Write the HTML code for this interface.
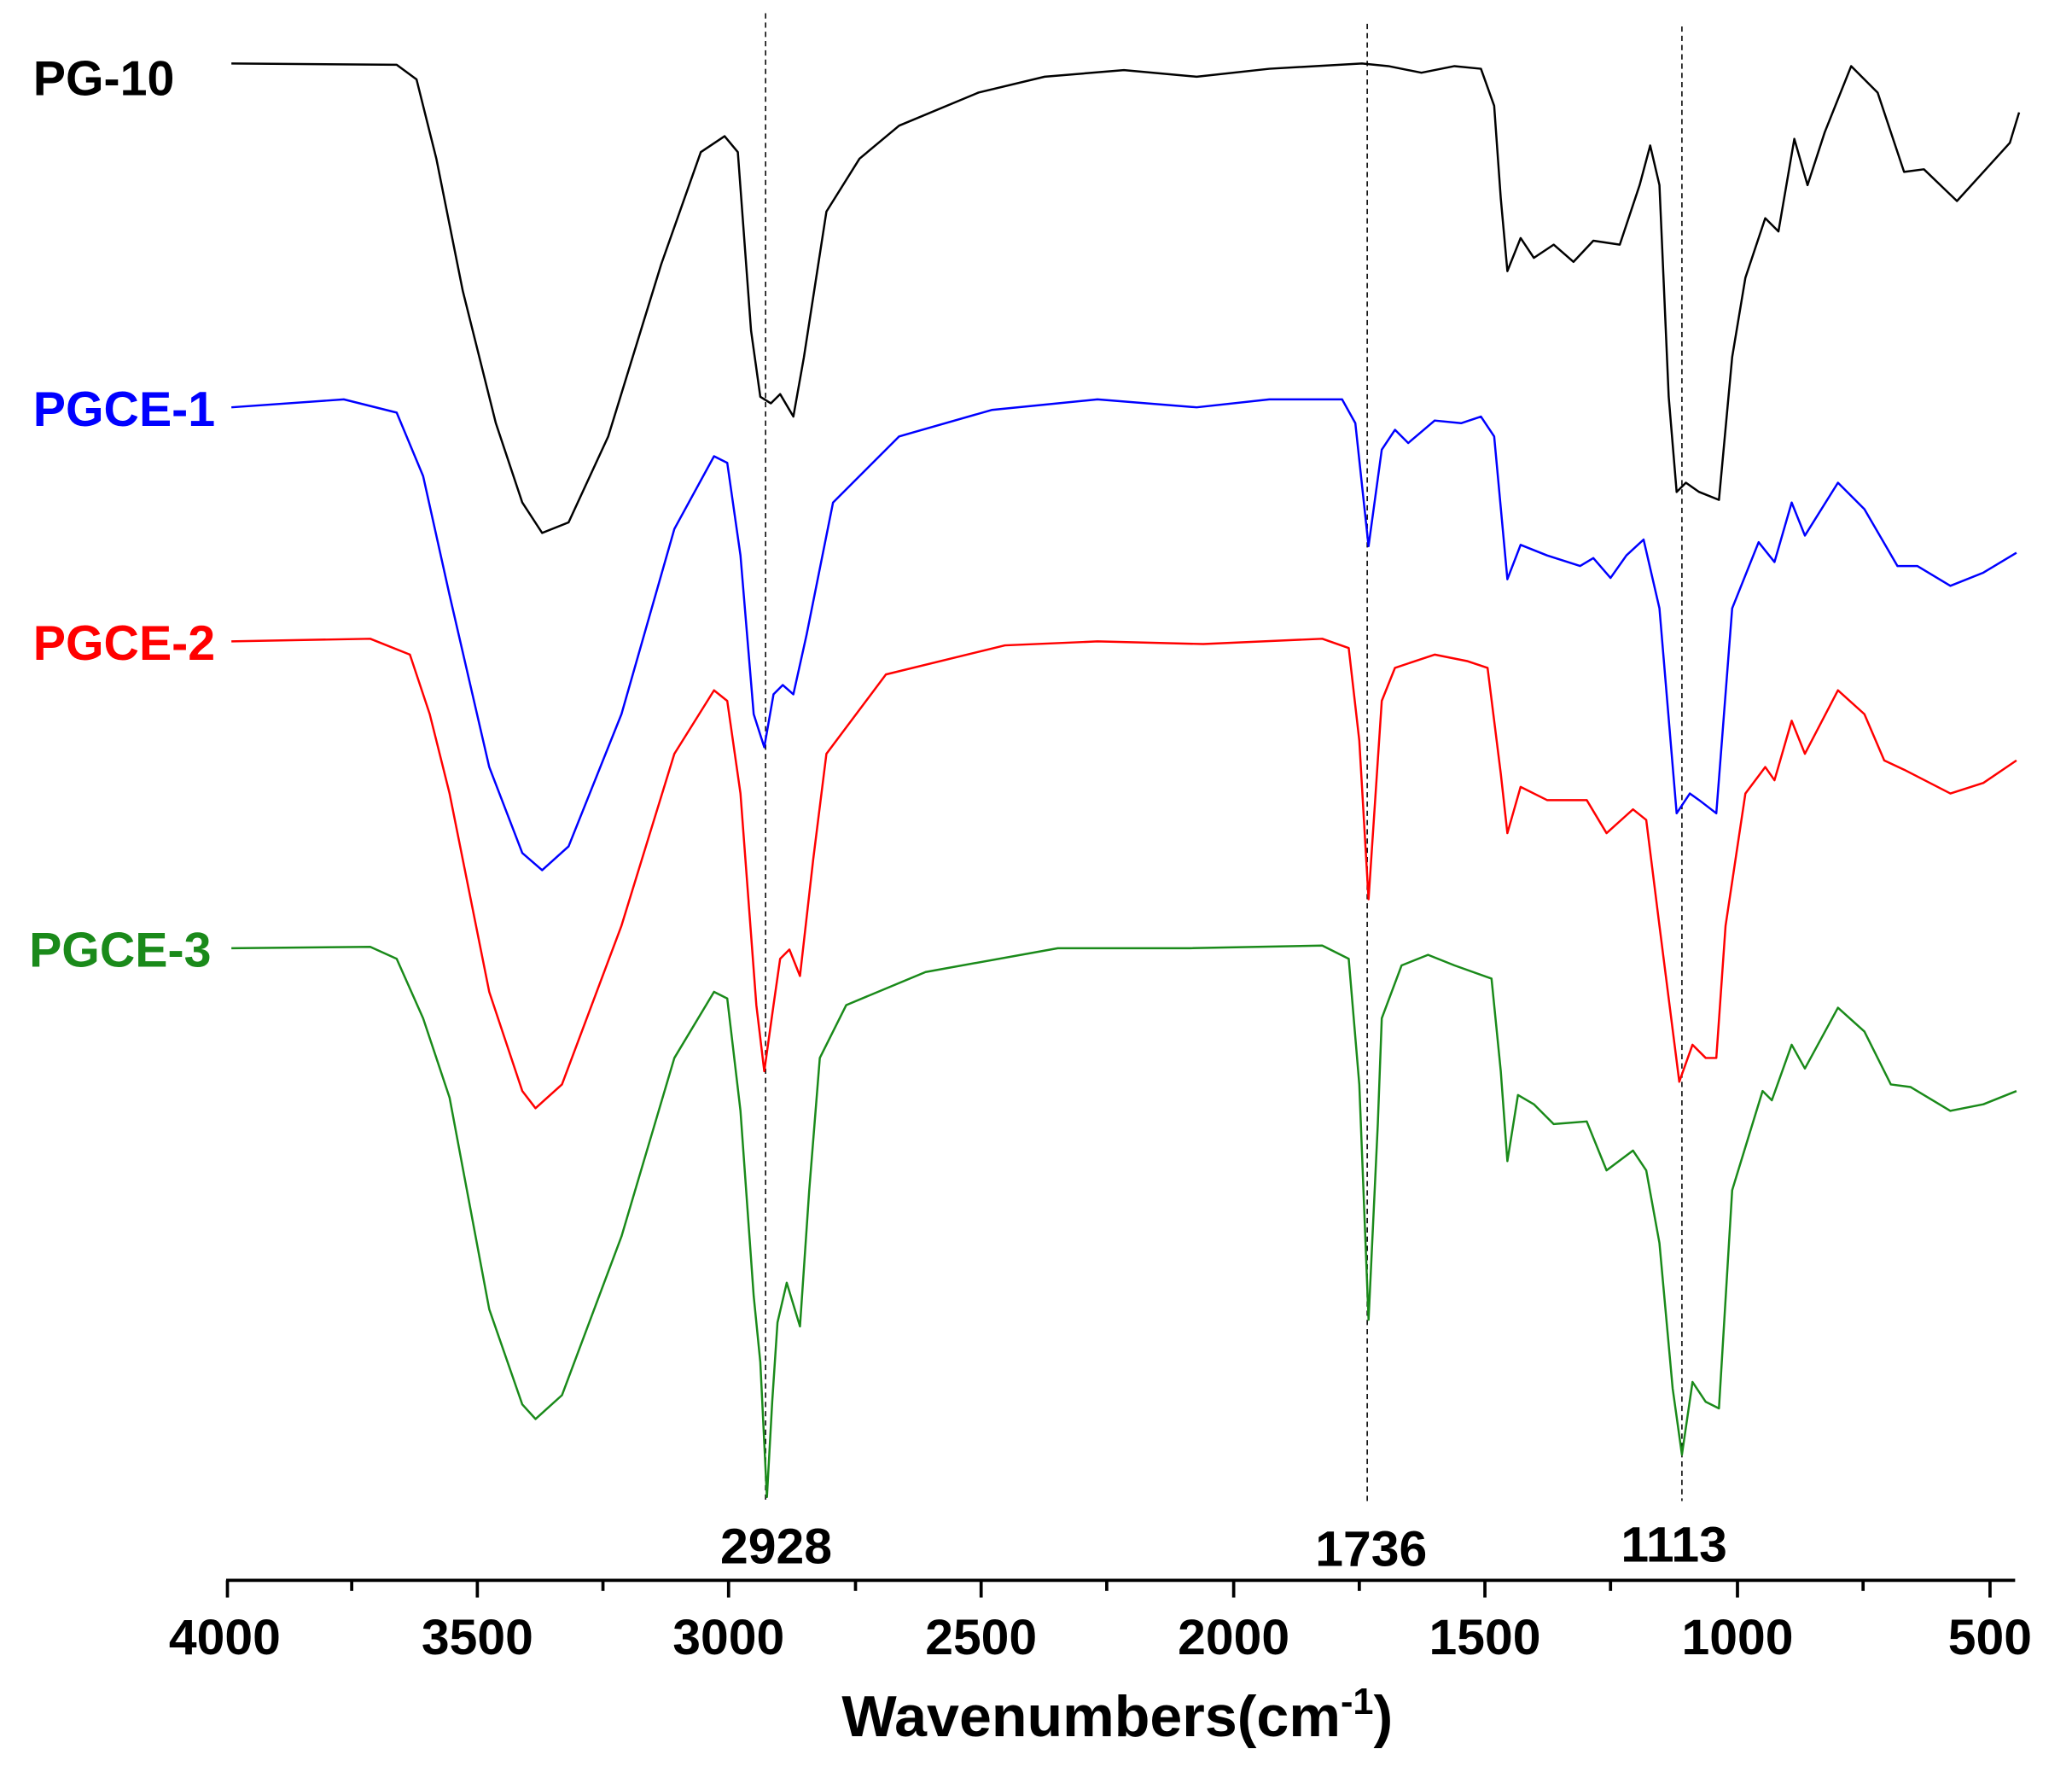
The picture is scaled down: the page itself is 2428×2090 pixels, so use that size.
<!DOCTYPE html>
<html><head><meta charset="utf-8"><style>html,body{margin:0;padding:0;background:#fff}svg{display:block}</style></head>
<body>
<svg width="2428" height="2090" viewBox="0 0 1567 1349" preserveAspectRatio="none" xmlns="http://www.w3.org/2000/svg" font-family="Liberation Sans, Arial, sans-serif">
<rect width="1567" height="1349" fill="#fff"/>
<g stroke="#000" stroke-width="1" stroke-dasharray="4,3">
<line x1="579" y1="10" x2="579" y2="1135"/>
<line x1="1034" y1="18" x2="1034" y2="1135"/>
<line x1="1272" y1="20" x2="1272" y2="1135"/>
</g>
<g fill="none" stroke-width="1.6" stroke-linejoin="round">
<polyline stroke="#000" points="175,48 300,49 315,60 330,120 350,220 375,320 395,380 410,403 430,395 460,330 500,200 530,115 548,103 558,115 568,250 575,300 583,305 590,298 600,315 608,270 625,160 650,120 680,95 740,70 790,58 850,53 905,58 960,52 1030,48 1050,50 1075,55 1100,50 1120,52 1130,80 1135,150 1140,205 1150,180 1160,195 1175,185 1190,198 1205,182 1225,185 1240,140 1248,110 1255,140 1262,300 1268,372 1275,365 1285,372 1300,378 1310,270 1320,210 1335,165 1345,175 1357,105 1367,140 1380,100 1400,50 1420,70 1440,130 1455,128 1480,152 1500,130 1520,108 1527,85"/>
<polyline stroke="#0000ff" points="175,308 260,302 300,312 320,360 340,450 370,580 395,645 410,658 430,640 470,540 510,400 540,345 550,350 560,420 570,540 578,565 585,525 592,518 600,525 610,480 630,380 680,330 750,310 830,302 905,308 960,302 1015,302 1025,320 1035,413 1045,340 1055,325 1065,335 1085,318 1105,320 1120,315 1130,330 1140,438 1150,412 1170,420 1195,428 1205,422 1218,437 1230,420 1243,408 1255,460 1268,615 1278,600 1285,605 1298,615 1310,460 1330,410 1342,425 1355,380 1365,405 1390,365 1410,385 1435,428 1450,428 1475,443 1500,433 1525,418"/>
<polyline stroke="#ff0000" points="175,485 280,483 310,495 325,540 340,600 370,750 395,825 405,838 425,820 470,700 510,570 540,522 550,530 560,600 572,760 578,810 585,760 590,725 597,718 605,738 615,650 625,570 670,510 760,488 830,485 910,487 1000,483 1020,490 1028,560 1035,680 1045,530 1055,505 1085,495 1110,500 1125,505 1135,585 1140,630 1150,595 1170,605 1200,605 1215,630 1235,612 1245,620 1255,700 1270,818 1280,790 1290,800 1298,800 1305,700 1320,600 1335,580 1342,590 1355,545 1365,570 1390,522 1410,540 1425,575 1440,582 1475,600 1500,592 1525,575"/>
<polyline stroke="#1a8a1a" points="175,717 280,716 300,725 320,770 340,830 370,990 395,1062 405,1073 425,1055 470,935 510,800 540,750 550,755 560,840 570,980 575,1030 580,1132 584,1060 588,1000 595,970 605,1003 612,900 620,800 640,760 700,735 800,717 900,717 1000,715 1020,725 1028,820 1035,998 1042,850 1045,770 1060,730 1080,722 1100,730 1128,740 1135,810 1140,878 1148,828 1160,835 1175,850 1200,848 1215,885 1235,870 1245,885 1255,940 1265,1050 1272,1100 1280,1045 1290,1060 1300,1065 1310,900 1333,825 1340,832 1355,790 1365,808 1390,762 1410,780 1430,820 1445,822 1475,840 1500,835 1525,825"/>
</g>
<g stroke="#000" stroke-width="2.4">
<line x1="171" y1="1195" x2="1524" y2="1195"/>
<line x1="172" y1="1195" x2="172" y2="1208"/><line x1="266" y1="1195" x2="266" y2="1203"/>
<line x1="361" y1="1195" x2="361" y2="1208"/><line x1="456" y1="1195" x2="456" y2="1203"/>
<line x1="551" y1="1195" x2="551" y2="1208"/><line x1="647" y1="1195" x2="647" y2="1203"/>
<line x1="742" y1="1195" x2="742" y2="1208"/><line x1="837" y1="1195" x2="837" y2="1203"/>
<line x1="933" y1="1195" x2="933" y2="1208"/><line x1="1028" y1="1195" x2="1028" y2="1203"/>
<line x1="1123" y1="1195" x2="1123" y2="1208"/><line x1="1218" y1="1195" x2="1218" y2="1203"/>
<line x1="1314" y1="1195" x2="1314" y2="1208"/><line x1="1409" y1="1195" x2="1409" y2="1203"/>
<line x1="1505" y1="1195" x2="1505" y2="1208"/>
</g>
<g font-size="38" font-weight="bold" text-anchor="middle" fill="#000">
<text x="170" y="1251">4000</text><text x="361" y="1251">3500</text><text x="551" y="1251">3000</text>
<text x="742" y="1251">2500</text><text x="933" y="1251">2000</text><text x="1123" y="1251">1500</text>
<text x="1314" y="1251">1000</text><text x="1505" y="1251">500</text>
<text x="587" y="1182">2928</text><text x="1037" y="1184">1736</text><text x="1266" y="1181">1113</text>
</g>
<text x="845" y="1313" font-size="44" font-weight="bold" text-anchor="middle">Wavenumbers(cm<tspan font-size="28" dy="-17">-1</tspan><tspan dy="17">)</tspan></text>
<g font-size="37" font-weight="bold">
<text x="25" y="72" fill="#000">PG-10</text>
<text x="25" y="322" fill="#0000ff">PGCE-1</text>
<text x="25" y="499" fill="#ff0000">PGCE-2</text>
<text x="22" y="731" fill="#1a8a1a">PGCE-3</text>
</g>
</svg>
</body></html>
